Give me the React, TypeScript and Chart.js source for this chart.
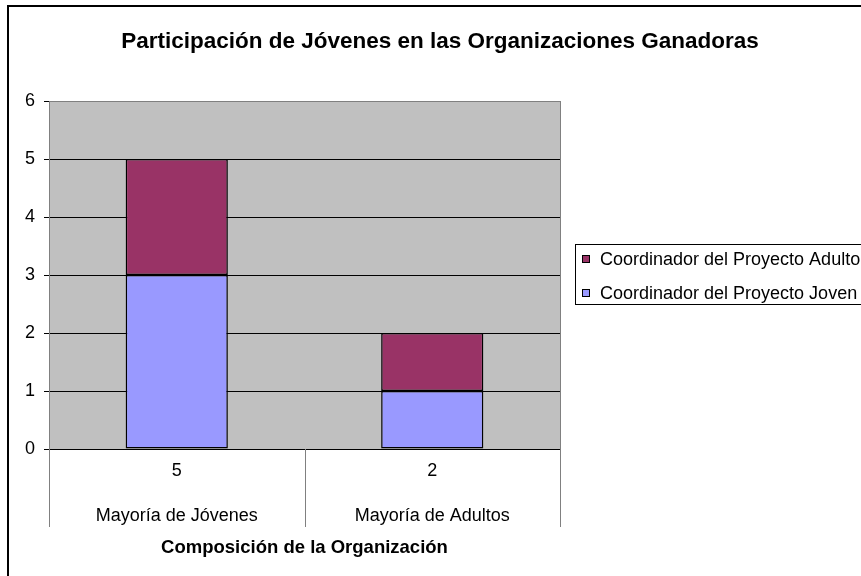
import React, { useEffect, useRef } from "react";
import { Chart, registerables } from "chart.js";

Chart.register(...registerables);

const chartTitle = "Participación de Jóvenes en las Organizaciones Ganadoras";
const axisTitle = "Composición de la Organización";
const categories = ["Mayoría de Jóvenes", "Mayoría de Adultos"];
const joven = [3, 1];
const adulto = [2, 1];
const jovenLabel = "Coordinador del Proyecto Joven";
const adultoLabel = "Coordinador del Proyecto Adulto";
const yTicks = [0, 1, 2, 3, 4, 5, 6];

const FONT = "'Liberation Sans', Arial, sans-serif";

const decorPlugin = {
  id: "decor",
  beforeDraw(chart: any) {
    const { ctx, chartArea } = chart;
    ctx.save();
    ctx.fillStyle = "#ffffff";
    ctx.fillRect(0, 0, chart.width, chart.height);
    ctx.fillStyle = "#C0C0C0";
    ctx.fillRect(chartArea.left, chartArea.top, chartArea.right - chartArea.left, chartArea.bottom - chartArea.top);
    ctx.restore();
  },
  afterDraw(chart: any) {
    const { ctx, chartArea } = chart;
    const xs = chart.scales.x;
    ctx.save();
    // outer frame
    ctx.strokeStyle = "#000";
    ctx.lineWidth = 2;
    ctx.strokeRect(8, 6, chart.width + 20, chart.height + 20);
    // plot right border
    ctx.lineWidth = 1;
    ctx.strokeStyle = "#808080";
    ctx.beginPath();
    ctx.moveTo(chartArea.right + 0.5, chartArea.top);
    ctx.lineTo(chartArea.right + 0.5, chartArea.bottom);
    ctx.stroke();
    // category dividers
    const n = categories.length;
    const w = (xs.right - xs.left) / n;
    for (let i = 0; i <= n; i++) {
      const x = Math.round(xs.left + i * w) + 0.5;
      ctx.beginPath();
      ctx.moveTo(x, chartArea.bottom);
      ctx.lineTo(x, 527);
      ctx.stroke();
    }
    // title
    ctx.fillStyle = "#000";
    ctx.textAlign = "center";
    ctx.textBaseline = "middle";
    ctx.font = `bold 22.5px ${FONT}`;
    ctx.fillText(chartTitle, 440, 42);
    // axis title
    ctx.font = `bold 18.5px ${FONT}`;
    ctx.fillText(axisTitle, (chartArea.left + chartArea.right) / 2, 548);
    // legend
    ctx.strokeStyle = "#000";
    ctx.lineWidth = 1;
    ctx.strokeRect(575.5, 244.5, 320, 60);
    const items = [...chart.data.datasets].reverse();
    ctx.font = `18px ${FONT}`;
    ctx.textAlign = "left";
    items.forEach((ds: any, i: number) => {
      const cy = 260 + i * 34;
      ctx.fillStyle = ds.backgroundColor;
      ctx.fillRect(582.5, cy - 4.5, 7, 7);
      ctx.strokeRect(582.5, cy - 4.5, 7, 7);
      ctx.fillStyle = "#000";
      ctx.fillText(ds.label, 600, cy);
    });
    ctx.restore();
  },
};

export default function App() {
  const ref = useRef<HTMLCanvasElement>(null);
  useEffect(() => {
    if (!ref.current) return;
    const labels = categories.map((c, i) => [String(joven[i] + adulto[i]), c]);
    const chart = new Chart(ref.current, {
      type: "bar",
      data: {
        labels,
        datasets: [
          {
            label: jovenLabel,
            data: joven,
            backgroundColor: "#9999FF",
            borderColor: "#000000",
            borderWidth: 1.5,
            borderSkipped: false,
            barPercentage: 0.4,
            categoryPercentage: 1,
          },
          {
            label: adultoLabel,
            data: adulto,
            backgroundColor: "#993366",
            borderColor: "#000000",
            borderWidth: 1.5,
            borderSkipped: false,
            barPercentage: 0.4,
            categoryPercentage: 1,
          },
        ],
      },
      options: {
        responsive: false,
        animation: false,
        layout: { padding: { left: 0, right: 301, top: 101, bottom: 0 } },
        plugins: { legend: { display: false }, title: { display: false }, tooltip: { enabled: false } },
        scales: {
          x: {
            stacked: true,
            offset: true,
            grid: { display: false, drawTicks: false },
            border: { display: true, color: "#000000", width: 1 },
            ticks: {
              color: "#000",
              padding: 0,
              maxRotation: 0,
              autoSkip: false,
              font: { family: FONT, size: 18, lineHeight: 2.5 },
            },
            afterFit: (s: any) => { s.height = 127; },
          },
          y: {
            stacked: true,
            min: 0,
            max: 6,
            afterBuildTicks: (s: any) => { s.ticks = yTicks.map((v) => ({ value: v })); },
            grid: {
              color: (c: any) => (c.tick && c.tick.value === 6 ? "#808080" : "#000000"),
              tickColor: "#000000",
              tickLength: 5,
              lineWidth: 1,
            },
            border: { display: true, color: "#808080", width: 1 },
            ticks: {
              color: "#000",
              padding: 9,
              font: { family: FONT, size: 18 },
            },
            afterFit: (s: any) => { s.width = 49; },
          },
        },
      },
      plugins: [decorPlugin],
    });
    return () => chart.destroy();
  }, []);
  return (
    <div style={{ position: "absolute", left: 0, top: 0, width: 861, height: 576 }}>
      <canvas ref={ref} width={861} height={576} style={{ display: "block" }} />
    </div>
  );
}
